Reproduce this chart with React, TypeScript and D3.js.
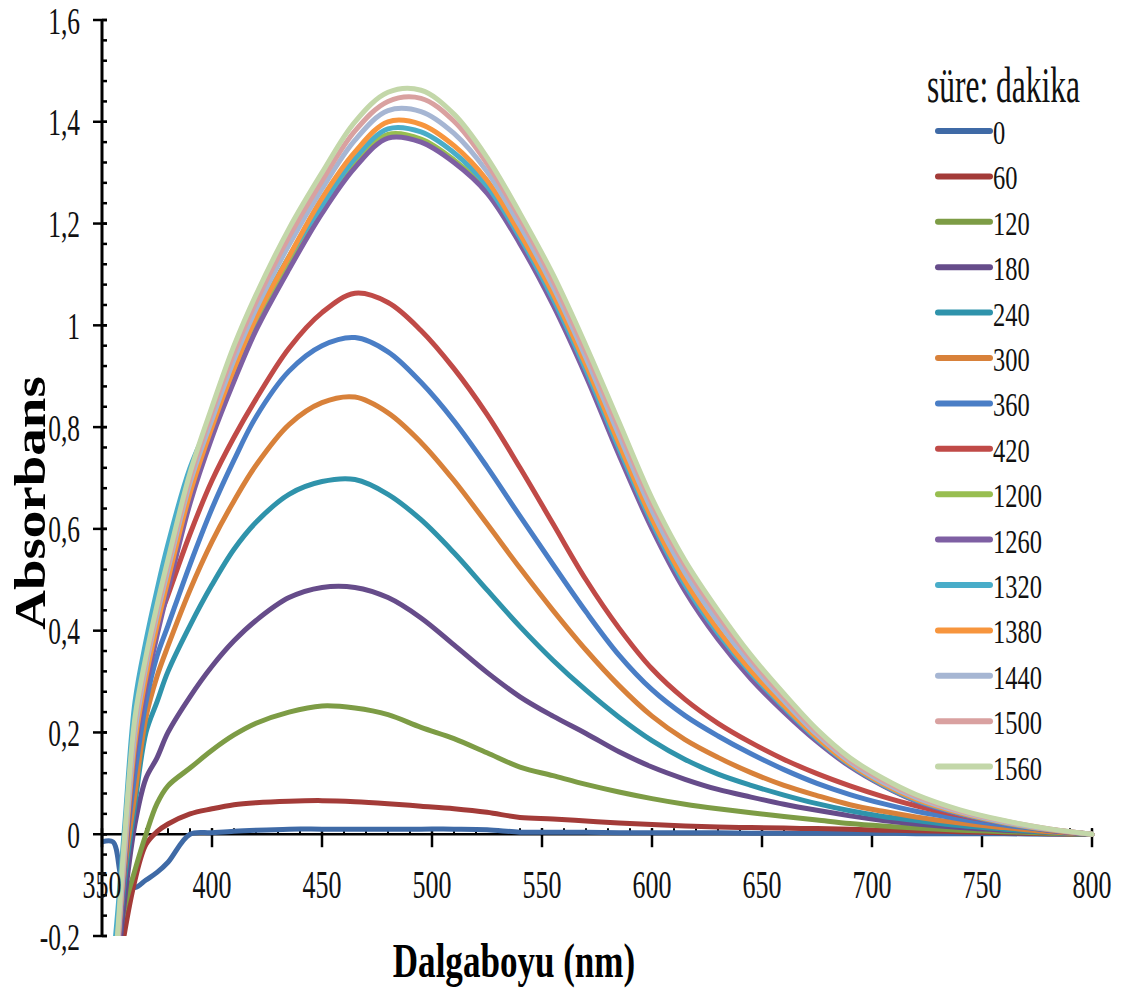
import React from "react";
import * as d3 from "d3";

const wavelengths = [350,355,360,365,370,375,380,390,400,410,420,435,450,465,480,495,510,525,540,555,570,585,600,615,630,645,660,675,690,705,720,740,760,780,800];

const labels = ["0","60","120","180","240","300","360","420","1200","1260","1320","1380","1440","1500","1560"];
const colors = ["#3F6AA6","#A33B38","#7D9C45","#664C8A","#2F93AB","#D8813A","#4A7EC6","#C04A47","#98BE50","#7E5FA3","#49ADC9","#F7953D","#A6B6D3","#D9A1A0","#C3D7A9"];

const s0 = [-0.015,-0.015,-0.1,-0.105,-0.09,-0.075,-0.055,0.0,0.003,0.006,0.008,0.01,0.01,0.01,0.01,0.01,0.01,0.009,0.004,0.004,0.004,0.003,0.003,0.003,0.003,0.002,0.002,0.002,0.002,0.002,0.001,0.001,0.001,0,0];
const s60 = [-0.5,-0.35,-0.2,-0.09,-0.02,0.005,0.02,0.04,0.05,0.058,0.062,0.065,0.066,0.064,0.06,0.055,0.05,0.043,0.033,0.03,0.026,0.022,0.019,0.016,0.014,0.013,0.012,0.011,0.01,0.008,0.007,0.005,0.003,0.001,0];
const s120 = [-0.5,-0.3,-0.15,-0.07,0.0,0.06,0.095,0.13,0.165,0.195,0.218,0.24,0.252,0.248,0.235,0.21,0.188,0.16,0.132,0.115,0.098,0.083,0.07,0.059,0.05,0.042,0.035,0.028,0.021,0.016,0.012,0.008,0.005,0.002,0];
const s180 = [-0.5,-0.35,-0.14,0.02,0.11,0.15,0.2,0.27,0.33,0.38,0.42,0.465,0.485,0.485,0.465,0.425,0.372,0.318,0.27,0.232,0.198,0.162,0.132,0.108,0.088,0.073,0.059,0.047,0.036,0.027,0.02,0.013,0.008,0.004,0];
const s240 = [-0.5,-0.34,-0.1,0.06,0.2,0.26,0.32,0.41,0.49,0.56,0.613,0.668,0.693,0.697,0.668,0.618,0.553,0.48,0.408,0.342,0.283,0.23,0.184,0.147,0.118,0.096,0.077,0.06,0.046,0.035,0.027,0.017,0.01,0.004,0];
const s300 = [-0.5,-0.34,-0.08,0.08,0.23,0.31,0.37,0.48,0.575,0.655,0.725,0.805,0.848,0.859,0.828,0.77,0.695,0.61,0.523,0.44,0.362,0.292,0.232,0.186,0.151,0.121,0.096,0.076,0.058,0.045,0.034,0.022,0.013,0.005,0];
const s360 = [-0.5,-0.32,-0.06,0.12,0.26,0.35,0.41,0.53,0.64,0.735,0.82,0.91,0.96,0.976,0.948,0.888,0.812,0.722,0.625,0.53,0.437,0.352,0.284,0.233,0.193,0.158,0.127,0.1,0.078,0.06,0.045,0.03,0.018,0.008,0];
const s420 = [-0.5,-0.3,-0.05,0.17,0.32,0.41,0.47,0.59,0.695,0.78,0.855,0.955,1.025,1.063,1.045,0.99,0.915,0.825,0.72,0.61,0.5,0.405,0.325,0.265,0.218,0.18,0.147,0.119,0.095,0.074,0.056,0.037,0.022,0.01,0];
const s1200 = [-0.48,-0.33,-0.06,0.17,0.3,0.4,0.49,0.66,0.79,0.9,1.0,1.12,1.23,1.32,1.375,1.366,1.325,1.265,1.165,1.045,0.905,0.75,0.605,0.483,0.388,0.31,0.244,0.185,0.135,0.096,0.066,0.04,0.022,0.009,0];
const s1260 = [-0.5,-0.35,-0.08,0.16,0.29,0.39,0.48,0.65,0.78,0.89,0.99,1.11,1.22,1.31,1.368,1.36,1.32,1.26,1.16,1.04,0.9,0.745,0.6,0.478,0.383,0.305,0.24,0.182,0.133,0.095,0.065,0.039,0.021,0.008,0];
const s1320 = [-0.4,-0.25,0.0,0.26,0.38,0.48,0.57,0.72,0.82,0.92,1.015,1.135,1.236,1.328,1.386,1.38,1.339,1.274,1.172,1.052,0.912,0.758,0.612,0.49,0.395,0.316,0.249,0.187,0.136,0.097,0.067,0.041,0.022,0.009,0];
const s1380 = [-0.5,-0.33,-0.06,0.18,0.31,0.41,0.5,0.67,0.8,0.915,1.015,1.135,1.25,1.341,1.4,1.395,1.353,1.285,1.18,1.062,0.922,0.768,0.62,0.498,0.402,0.321,0.253,0.19,0.138,0.099,0.069,0.042,0.023,0.009,0];
const s1440 = [-0.47,-0.32,-0.05,0.2,0.33,0.43,0.52,0.69,0.815,0.932,1.032,1.158,1.268,1.364,1.422,1.42,1.377,1.302,1.196,1.076,0.936,0.784,0.636,0.514,0.417,0.334,0.262,0.196,0.142,0.102,0.072,0.044,0.024,0.01,0];
const s1500 = [-0.46,-0.31,-0.03,0.22,0.34,0.44,0.53,0.7,0.83,0.946,1.046,1.174,1.284,1.382,1.44,1.446,1.401,1.318,1.21,1.088,0.948,0.798,0.65,0.528,0.43,0.344,0.269,0.201,0.146,0.106,0.075,0.046,0.026,0.011,0];
const s1560 = [-0.45,-0.3,-0.02,0.23,0.35,0.45,0.54,0.71,0.84,0.96,1.06,1.19,1.3,1.4,1.458,1.462,1.415,1.33,1.22,1.1,0.96,0.81,0.66,0.538,0.44,0.352,0.276,0.206,0.15,0.11,0.078,0.048,0.027,0.011,0];

const seriesValues = [s0,s60,s120,s180,s240,s300,s360,s420,s1200,s1260,s1320,s1380,s1440,s1500,s1560];

const xTicks = [350,400,450,500,550,600,650,700,750,800];
const yTicks = [-0.2,0,0.2,0.4,0.6,0.8,1,1.2,1.4,1.6];
const yTickLabels = ["-0,2","0","0,2","0,4","0,6","0,8","1","1,2","1,4","1,6"];

const FONT = "'Liberation Serif', 'Times New Roman', serif";

export default function App() {
  const W = 1125, H = 998;
  const x = d3.scaleLinear().domain([350, 800]).range([102, 1092]);
  const y = d3.scaleLinear().domain([-0.2, 1.6]).range([936, 20]);
  const line = d3.line<number>()
    .x((_, i) => x(wavelengths[i]))
    .y((d) => y(d))
    .curve(d3.curveCatmullRom.alpha(0.5));

  const minorY = d3.range(-0.2, 1.6001, 0.04);
  const minorX = d3.range(350, 801, 10);
  const y0 = y(0);

  return (
    <svg width={W} height={H} style={{ position: "absolute", left: 0, top: 0, background: "#fff" }} fontFamily={FONT}>
      <defs>
        <clipPath id="plot">
          <rect x={102} y={0} width={1000} height={936} />
        </clipPath>
      </defs>
      <rect x={0} y={0} width={W} height={H} fill="#fff" />

      {/* x axis at y=0 */}
      <line x1={102} x2={1092} y1={y0} y2={y0} stroke="#000" strokeWidth={2.5} />
      {minorX.map((v) => (
        <line key={"mx" + v} x1={x(v)} x2={x(v)} y1={y0 - 6} y2={y0} stroke="#000" strokeWidth={2} />
      ))}
      {xTicks.map((v) => (
        <line key={"tx" + v} x1={x(v)} x2={x(v)} y1={y0 - 6} y2={y0 + 13} stroke="#000" strokeWidth={2.5} />
      ))}

      {/* curves */}
      <g clipPath="url(#plot)">
        {seriesValues.map((vals, i) => (
          <path key={labels[i]} d={line(vals) || ""} fill="none" stroke={colors[i]} strokeWidth={5} strokeLinejoin="round" strokeLinecap="round" />
        ))}
      </g>

      {/* y axis */}
      <line x1={102} x2={102} y1={20} y2={936} stroke="#000" strokeWidth={3} />
      {minorY.map((v, i) => (
        <line key={"my" + i} x1={102} x2={107} y1={y(v)} y2={y(v)} stroke="#000" strokeWidth={2.5} />
      ))}
      {yTicks.map((v) => (
        <line key={"ty" + v} x1={93} x2={107} y1={y(v)} y2={y(v)} stroke="#000" strokeWidth={2.5} />
      ))}

      {/* y tick labels */}
      {yTicks.map((v, i) => (
        <text key={"ly" + v} transform={`translate(80,${y(v) + 13.5}) scale(0.67,1)`} textAnchor="end" fontSize={38} fill="#111">
          {yTickLabels[i]}
        </text>
      ))}
      {/* x tick labels */}
      {xTicks.map((v) => (
        <text key={"lx" + v} transform={`translate(${x(v)},898) scale(0.65,1)`} textAnchor="middle" fontSize={40} fill="#111">
          {String(v)}
        </text>
      ))}

      {/* axis titles */}
      <text transform="translate(514,977) scale(0.73,1)" textAnchor="middle" fontSize={48} fontWeight="bold" fill="#000">
        Dalgaboyu (nm)
      </text>
      <text transform="translate(45,503) rotate(-90) scale(1.25,1)" textAnchor="middle" fontSize={44} fontWeight="bold" fill="#000">
        Absorbans
      </text>

      {/* legend */}
      <text transform="translate(927,102) scale(0.63,1)" fontSize={50} fill="#111">süre: dakika</text>
      {labels.map((lab, i) => {
        const ly = 131 + i * 45.4;
        return (
          <g key={"lg" + lab}>
            <line x1={938} x2={990} y1={ly} y2={ly} stroke={colors[i]} strokeWidth={6} strokeLinecap="round" />
            <text transform={`translate(993,${ly + 13}) scale(0.72,1)`} fontSize={34} fill="#111">{lab}</text>
          </g>
        );
      })}
    </svg>
  );
}
